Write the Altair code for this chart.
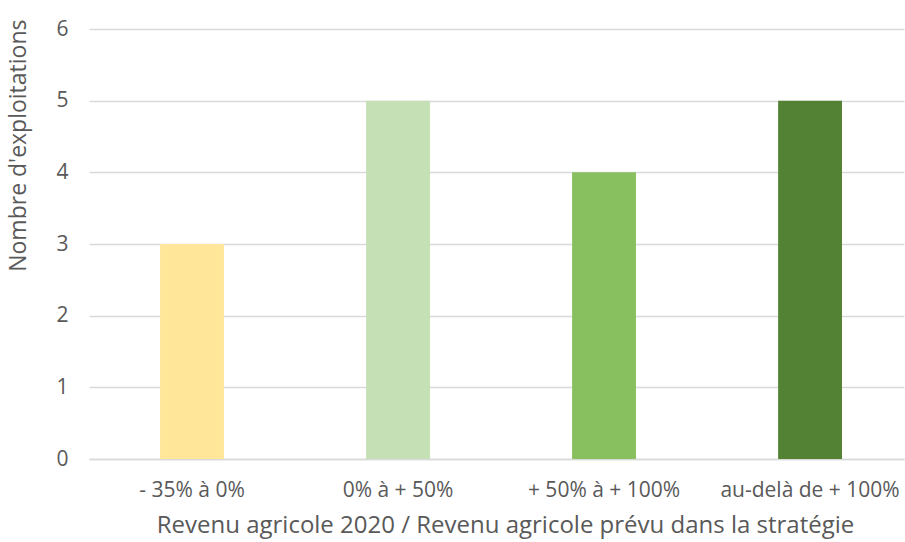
import altair as alt
import pandas as pd

categories = ["- 35% à 0%", "0% à + 50%", "+ 50% à + 100%", "au-delà de + 100%"]
counts = [3, 5, 4, 5]
colors = ["#FFE699", "#C5E0B4", "#88BF5F", "#548235"]

df = pd.DataFrame({"cat": categories, "n": counts})

FONT = "Open Sans"
TEXT = "#595959"

chart = alt.Chart(df).mark_bar().encode(
    x=alt.X(
        "cat:N",
        sort=categories,
        title="Revenu agricole 2020 / Revenu agricole prévu dans la stratégie",
        scale=alt.Scale(paddingInner=0.69, paddingOuter=0.323, align=0.534),
        axis=alt.Axis(
            labelAngle=0, labelFont=FONT, labelFontSize=21, labelColor=TEXT,
            titleFont=FONT, titleFontSize=24, titleColor=TEXT, titleFontWeight="normal",
            titlePadding=13, labelPadding=20, ticks=False,
            titleX=416, titleAlign="center",
            domainColor="#D9D9D9", domainWidth=1.5, grid=False,
        ),
    ),
    y=alt.Y(
        "n:Q",
        title="Nombre d'exploitations",
        scale=alt.Scale(domain=[0, 6], nice=False),
        axis=alt.Axis(
            values=[0, 1, 2, 3, 4, 5, 6], format="d",
            labelFont=FONT, labelFontSize=21, labelColor=TEXT, labelPadding=21,
            titleFont=FONT, titleFontSize=23, titleColor=TEXT, titleFontWeight="normal",
            titleAngle=270, titleX=-71, titleY=-10,
            titleAlign="right", titleBaseline="middle",
            ticks=False, domain=False,
            gridColor="#D9D9D9", gridWidth=1.5,
        ),
    ),
    color=alt.Color("cat:N", sort=categories,
                    scale=alt.Scale(domain=categories, range=colors), legend=None),
).properties(
    width=815,
    height=430,
    autosize=alt.AutoSizeParams(type="none"),
    padding={"left": 89, "top": 29, "right": 1, "bottom": 83},
    background="white",
).configure_view(stroke=None, strokeWidth=0)

chart.save("out.html", embed_options={"renderer": "svg", "actions": False})
